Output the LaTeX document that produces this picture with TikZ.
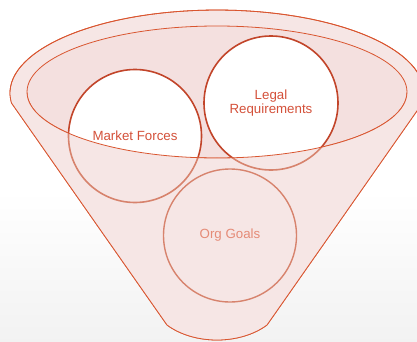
\documentclass[tikz,border=0pt]{standalone}
\usepackage{fontspec}
\setmainfont{Liberation Sans}
\usetikzlibrary{positioning}
\definecolor{rimred}{HTML}{D9552F}
\definecolor{ringred}{HTML}{C2452A}
\definecolor{fadered}{HTML}{D7836D}
\definecolor{cuppink}{HTML}{F6E6E5}
\definecolor{mouthpink}{HTML}{F4E0DF}
\definecolor{labelred}{HTML}{D4513A}
\definecolor{softred}{HTML}{E58B77}

\begin{document}
\begin{tikzpicture}[x=1pt, y=1pt,
    rim/.style = {draw=rimred, line width=0.8pt},
    driver/.style = {circle, draw=ringred, fill=white, line width=1.6pt, minimum size=133pt, inner sep=0pt, align=center, text=labelred, font=\fontsize{13.3}{14}\selectfont},
    sunk/.style = {driver, draw=fadered, fill=cuppink, text=softred, line width=1.4pt}
]
\useasboundingbox (0,0) rectangle (417,341);
\shade[top color=white, bottom color=black!5] (0,0) rectangle (417,150);

% funnel body and its mouth
\path[fill=cuppink, rim] (11.5,238) arc[start angle=186.9, end angle=-6.9, x radius=207, y radius=83] -- (267,16) .. controls (240,-4) and (194,-4) .. (167,16) -- cycle;
\draw[rim, fill=mouthpink] (217,249) ellipse[x radius=190, y radius=66];

\node (market) [driver] at (135,205) {Market Forces};
\node (legal) [driver, minimum size=134pt] at (271,238) {Legal\\Requirements};

% front wall of the funnel hides the lower parts of the circles
\begin{scope}
    \clip (11.5,238) arc[start angle=186.9, end angle=-6.9, x radius=207, y radius=83] -- (267,16) .. controls (240,-4) and (194,-4) .. (167,16) -- cycle;
    \clip (27,249) arc[start angle=180, end angle=360, x radius=190, y radius=66] -- (430,249) -- (430,-10) -- (-10,-10) -- (-10,249) -- cycle;
    \fill[cuppink] (-10,-10) rectangle (430,260);
    \draw[fadered, line width=1.6pt] (market) circle[radius=66.5];
    \draw[fadered, line width=1.6pt] (legal) circle[radius=67];
\end{scope}
\draw[rim] (27,249) arc[start angle=180, end angle=360, x radius=190, y radius=66];
\draw[rim] (11.5,238) arc[start angle=186.9, end angle=-6.9, x radius=207, y radius=83] -- (267,16) .. controls (240,-4) and (194,-4) .. (167,16) -- cycle;

\node (goals) [sunk] at (230,105.5) {Org Goals};

\end{tikzpicture}
\end{document}
